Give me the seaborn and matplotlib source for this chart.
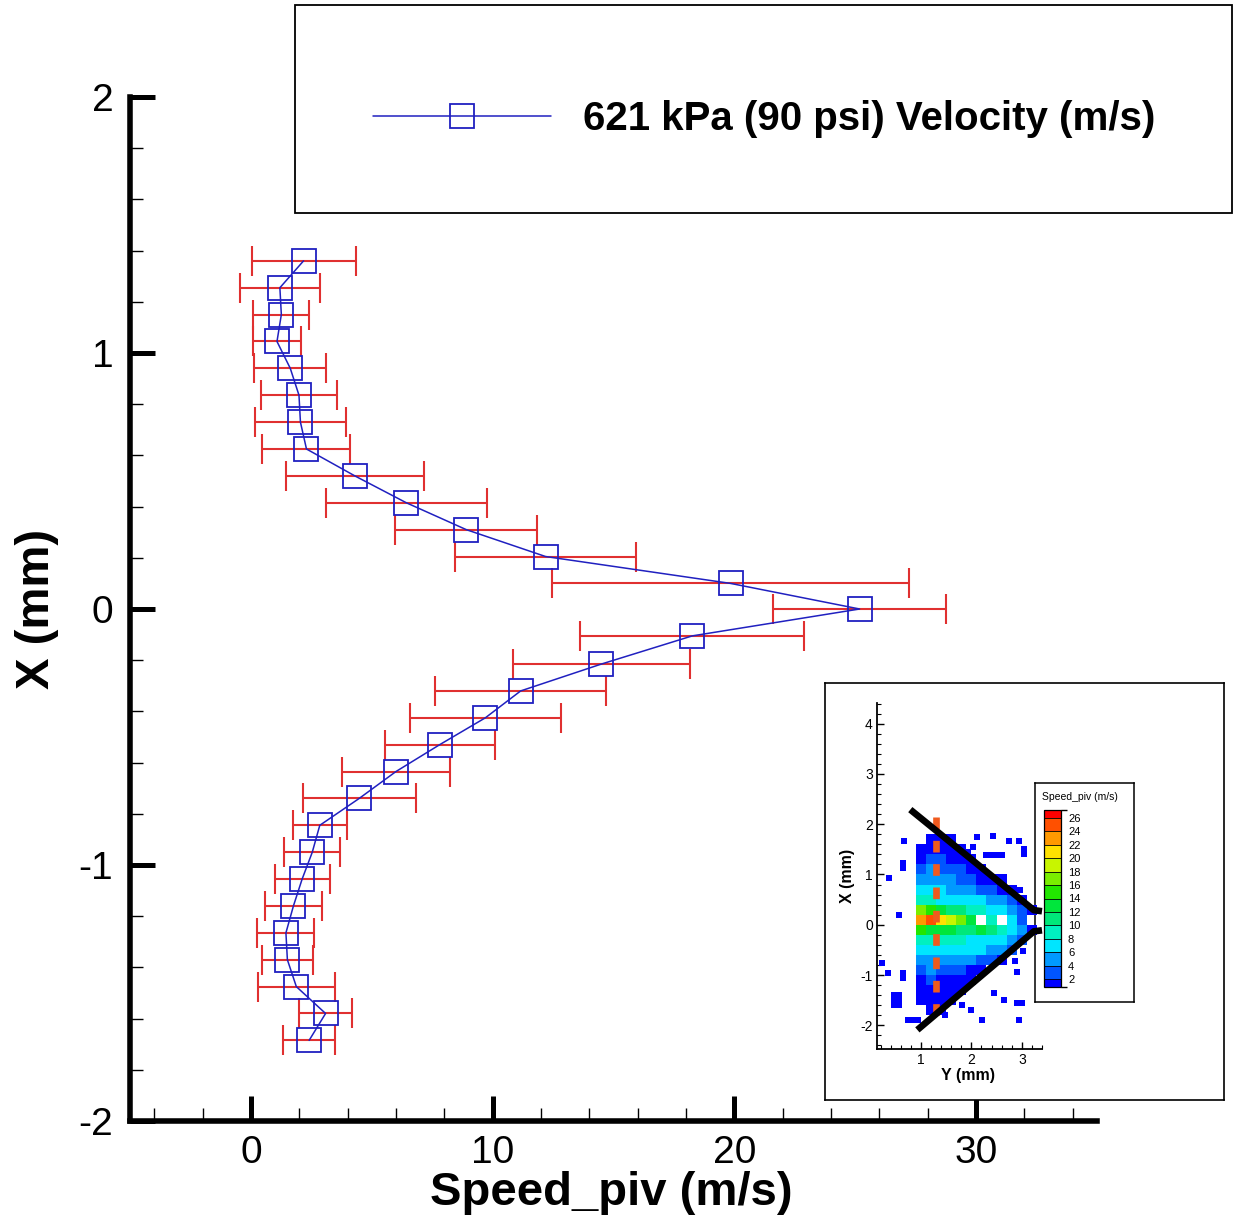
import numpy as np
import matplotlib
matplotlib.use("Agg")
import matplotlib.pyplot as plt
import seaborn as sns
from matplotlib.colors import ListedColormap, BoundaryNorm
from matplotlib.cm import ScalarMappable
from matplotlib.patches import Rectangle
from matplotlib.ticker import MultipleLocator, FixedLocator

# ---------------- data: main profile ----------------
position_mm = [1.36, 1.255, 1.15, 1.045, 0.94, 0.835, 0.73, 0.625, 0.52, 0.415,
               0.31, 0.205, 0.10, 0.0, -0.105, -0.215, -0.32, -0.425, -0.53, -0.635,
               -0.74, -0.845, -0.95, -1.055, -1.16, -1.265, -1.37, -1.475, -1.58, -1.685]
speed_ms = [2.18, 1.20, 1.26, 1.08, 1.63, 1.99, 2.05, 2.30, 4.30, 6.43,
            8.91, 12.19, 19.84, 25.18, 18.26, 14.50, 11.16, 9.70, 7.81, 6.00,
            4.48, 2.85, 2.54, 2.12, 1.76, 1.45, 1.51, 1.88, 3.09, 2.41]
speed_err = [2.15, 1.64, 1.16, 1.00, 1.49, 1.58, 1.89, 1.82, 2.86, 3.34,
             2.94, 3.76, 7.37, 3.58, 4.64, 3.65, 3.53, 3.13, 2.28, 2.25,
             2.34, 1.12, 1.16, 1.14, 1.18, 1.18, 1.05, 1.59, 1.10, 1.07]
series_label = "621 kPa (90 psi) Velocity (m/s)"
x_major_ticks = [0, 10, 20, 30]

# ---------------- data: inset speed field ----------------
n = np.nan
field_y_centers = [1.0, 1.2, 1.4, 1.6, 1.8, 2.0, 2.2, 2.4, 2.6, 2.8, 3.0, 3.2]
field_x_centers = [1.9, 1.7, 1.5, 1.3, 1.1, 0.9, 0.7, 0.5, 0.3, 0.1, -0.1,
                   -0.3, -0.5, -0.7, -0.9, -1.1, -1.3, -1.5, -1.7, -1.9, -2.1]
field_speed = [
    [n, n, n, n, n, n, n, n, n, n, n, n],
    [n, 1, 1, 1, n, n, n, n, n, n, n, n],
    [1, 1, 1, 1, 1, n, n, n, n, n, n, n],
    [1, 3, 3, 1, 1, 1, n, n, n, n, n, n],
    [3, 5, 3, 3, 3, 1, 1, n, n, n, n, n],
    [5, 5, 5, 5, 3, 3, 1, 1, 1, n, n, n],
    [7, 7, 7, 5, 5, 5, 3, 3, 1, 1, n, n],
    [9, 9, 7, 7, 7, 7, 7, 5, 5, 3, 1, n],
    [17, 15, 13, 11, 11, 9, 9, 7, 7, 5, 3, 1],
    [23, 25, 21, 19, 17, 13, n, 9, n, 7, 3, n],
    [15, 13, 13, 13, 11, 11, 13, 11, 9, 7, 5, 1],
    [9, 9, 9, 9, 9, 7, 7, 7, 7, 5, 3, n],
    [7, 7, 7, 7, 7, 7, 7, 5, 5, 3, n, n],
    [5, 5, 5, 5, 5, 5, 3, 3, 1, n, n, n],
    [3, 5, 3, 3, 3, 1, 1, n, n, n, n, n],
    [1, 3, 1, 1, 1, 1, n, n, n, n, n, n],
    [1, 1, 1, 1, 1, n, n, n, n, n, n, n],
    [1, 1, 1, 1, n, n, n, n, n, n, n, n],
    [n, 1, 1, n, n, n, n, n, n, n, n, n],
    [n, n, n, n, n, n, n, n, n, n, n, n],
    [n, n, n, n, n, n, n, n, n, n, n, n],
]
outlier_y = [0.66, 0.64, 0.64, 0.36, 0.56, 0.23, 0.35, 0.64, 0.64, 0.47, 0.57, 0.47,
             0.57, 0.47, 0.57, 0.75, 0.85, 0.95, 2.11, 2.43, 2.74, 2.95, 1.93, 2.03,
             2.30, 2.40, 2.50, 2.60, 3.05, 3.05, 2.97, 3.03, 2.87, 2.90, 2.44, 2.64,
             2.90, 3.00, 2.00, 1.81, 2.21, 2.95, 1.48]
outlier_x = [1.66, 1.22, 1.12, 0.93, 0.20, -0.76, -0.96, -0.95, -1.05, -1.40, -1.40, -1.50,
             -1.50, -1.60, -1.60, -1.90, -1.90, -1.90, 1.75, 1.77, 1.66, 1.66, 1.44, 1.54,
             1.39, 1.39, 1.39, 1.39, 1.40, 1.50, 0.70, -0.53, -0.73, -0.93, -1.36, -1.49,
             -1.56, -1.56, -1.69, -1.59, -1.90, -1.90, -1.79]
nozzle_upper_y = [0.79, 3.24, 3.40]
nozzle_upper_x = [2.29, 0.29, 0.27]
nozzle_lower_y = [0.93, 3.24, 3.40]
nozzle_lower_x = [-2.09, -0.13, -0.11]
profile_line_y = [1.30, 1.30]
profile_line_x = [2.15, -1.82]
level_bounds = [0.8, 2, 4, 6, 8, 10, 12, 14, 16, 18, 20, 22, 24, 26, 27.2]
level_ticks = [2, 4, 6, 8, 10, 12, 14, 16, 18, 20, 22, 24, 26]
level_colors = ['#0000ff', '#0055ff', '#0099ff', '#00e5ff', '#00f0c0', '#00e87a', '#00e63c',
                '#22e600', '#7aee00', '#c8f500', '#ffe100', '#ff9900', '#ff5000', '#ff0000']

# ---------------- style ----------------
sns.set_theme(style="white")
plt.rcParams['font.family'] = ['Liberation Sans', 'DejaVu Sans']
plt.rcParams['axes.unicode_minus'] = False
plt.rcParams['text.color'] = 'black'
plt.rcParams['axes.labelcolor'] = 'black'
plt.rcParams['xtick.color'] = 'black'
plt.rcParams['ytick.color'] = 'black'

BLUE = '#2020c0'
RED = '#e03030'
W, H = 1233, 1226


def fig_rect(x0, y0, x1, y1):
    return [x0 / W, 1 - y1 / H, (x1 - x0) / W, (y1 - y0) / H]


fig = plt.figure(figsize=(W / 100, H / 100), dpi=100)
fig.patch.set_facecolor('white')

# ---------------- main axes ----------------
ax = fig.add_axes(fig_rect(130, 97, 1097, 1121))
ax.set_facecolor('white')
ax.errorbar(speed_ms, position_mm, xerr=speed_err, fmt='none', ecolor=RED,
            elinewidth=1.5, capsize=11, capthick=1.5, zorder=2)
sns.lineplot(x=np.array(speed_ms), y=np.array(position_mm), sort=False, estimator=None,
             ax=ax, color=BLUE, linewidth=1.1, marker='s', markersize=17,
             markerfacecolor='none', markeredgecolor=BLUE, markeredgewidth=1.3,
             legend=False, zorder=3)
main_line = ax.lines[-1]

ax.set_xlim(-5, 35)
ax.set_ylim(-2, 2)
for s in ['top', 'right']:
    ax.spines[s].set_visible(False)
for s in ['left', 'bottom']:
    ax.spines[s].set_color('black')
    ax.spines[s].set_linewidth(4)
ax.xaxis.set_major_locator(FixedLocator(x_major_ticks))
ax.xaxis.set_minor_locator(MultipleLocator(2))
ax.yaxis.set_major_locator(MultipleLocator(1))
ax.yaxis.set_minor_locator(MultipleLocator(0.2))
ax.tick_params(which='major', direction='in', length=18, width=3.6, color='black',
               labelsize=28, labelcolor='black', left=True, bottom=True)
ax.tick_params(axis='y', which='major', pad=12)
ax.tick_params(axis='x', which='major', pad=10)
ax.tick_params(which='minor', direction='in', length=9.5, width=1.0, color='black',
               left=True, bottom=True)
ax.grid(False)

ax.set_xlabel('Speed_piv (m/s)', fontsize=34, fontweight='bold', va='center', color='black')
ax.xaxis.set_label_coords(0.498, -0.0703)
ax.set_ylabel('X (mm)', fontsize=34, fontweight='bold', va='center', color='black')
ax.yaxis.set_label_coords(-0.0962, 0.5)

# ---------------- legend ----------------
fig.patches.append(Rectangle((295 / W, 1 - 213 / H), 937 / W, 208 / H,
                             transform=fig.transFigure, fill=False,
                             edgecolor='black', linewidth=1.3, zorder=1))
leg = fig.legend(handles=[main_line], labels=[series_label], loc='center left',
                 bbox_to_anchor=(373 / W, 1 - 119 / H), bbox_transform=fig.transFigure,
                 frameon=False, borderpad=0, borderaxespad=0, handlelength=4.42,
                 handletextpad=0.8, numpoints=1,
                 prop={'family': ['Liberation Sans', 'DejaVu Sans'], 'weight': 'bold', 'size': 29})
for t in leg.get_texts():
    t.set_color('black')

# ---------------- inset ----------------
ax_bg = fig.add_axes(fig_rect(825, 683, 1224, 1100))
ax_bg.set_facecolor('white')
ax_bg.set_xticks([])
ax_bg.set_yticks([])
for s in ax_bg.spines.values():
    s.set_visible(True)
    s.set_color('black')
    s.set_linewidth(1.2)

ax_box = fig.add_axes(fig_rect(1035, 783, 1134, 1002))
ax_box.set_facecolor('white')
ax_box.set_xticks([])
ax_box.set_yticks([])
for s in ax_box.spines.values():
    s.set_visible(True)
    s.set_color('black')
    s.set_linewidth(1.1)
ax_box.text(0.07, 0.935, 'Speed_piv (m/s)', transform=ax_box.transAxes,
            fontsize=7.5, ha='left', va='center', color='black')

cmap = ListedColormap(level_colors)
norm = BoundaryNorm(level_bounds, cmap.N)

ax_in = fig.add_axes(fig_rect(877, 703, 1042, 1049))
ax_in.set_facecolor('none')
yc = np.array(field_y_centers)
xc = np.array(field_x_centers)
y_edges = np.concatenate([yc - 0.1, [yc[-1] + 0.1]])
x_edges = np.concatenate([xc + 0.1, [xc[-1] - 0.1]])
ax_in.pcolormesh(y_edges, x_edges, np.ma.masked_invalid(np.array(field_speed, dtype=float)),
                 cmap=cmap, norm=norm, shading='flat', zorder=1)
ax_in.scatter(outlier_y, outlier_x, marker='s', s=20, c=level_colors[0],
              linewidths=0, zorder=1)
ax_in.plot(profile_line_y, profile_line_x, color='#f05a1e', linewidth=4.8,
           dashes=(1.75, 1.75), dash_capstyle='butt', zorder=2)
ax_in.plot(nozzle_upper_y, nozzle_upper_x, color='black', linewidth=4.8,
           solid_capstyle='butt', clip_on=False, zorder=3)
ax_in.plot(nozzle_lower_y, nozzle_lower_x, color='black', linewidth=4.8,
           solid_capstyle='butt', clip_on=False, zorder=3)
ax_in.set_xlim(0.13, 3.4)
ax_in.set_ylim(-2.47, 4.41)
for s in ['top', 'right']:
    ax_in.spines[s].set_visible(False)
for s in ['left', 'bottom']:
    ax_in.spines[s].set_color('black')
    ax_in.spines[s].set_linewidth(1.3)
ax_in.xaxis.set_major_locator(MultipleLocator(1))
ax_in.xaxis.set_minor_locator(MultipleLocator(0.2))
ax_in.yaxis.set_major_locator(MultipleLocator(1))
ax_in.yaxis.set_minor_locator(MultipleLocator(0.2))
ax_in.tick_params(which='major', direction='in', length=5, width=1.0, color='black',
                  labelsize=10, labelcolor='black', pad=3, left=True, bottom=True)
ax_in.tick_params(which='minor', direction='in', length=3, width=0.8, color='black',
                  left=True, bottom=True)
ax_in.grid(False)
ax_in.set_xlabel('Y (mm)', fontsize=11.5, fontweight='bold', va='center', color='black')
ax_in.xaxis.set_label_coords(0.55, -0.077)
ax_in.set_ylabel('X (mm)', fontsize=11.5, fontweight='bold', va='center', color='black')
ax_in.yaxis.set_label_coords(-0.176, 0.5)

cax = fig.add_axes(fig_rect(1044, 810, 1061, 987))
cb = fig.colorbar(ScalarMappable(norm=norm, cmap=cmap), cax=cax, boundaries=level_bounds,
                  ticks=level_ticks, spacing='proportional', drawedges=True)
cb.outline.set_edgecolor('black')
cb.outline.set_linewidth(0.9)
cb.dividers.set_color('black')
cb.dividers.set_linewidth(0.6)
cb.ax.tick_params(length=0, labelsize=8, pad=5, labelcolor='black')

fig.savefig('out.png', dpi=100, facecolor='white')
